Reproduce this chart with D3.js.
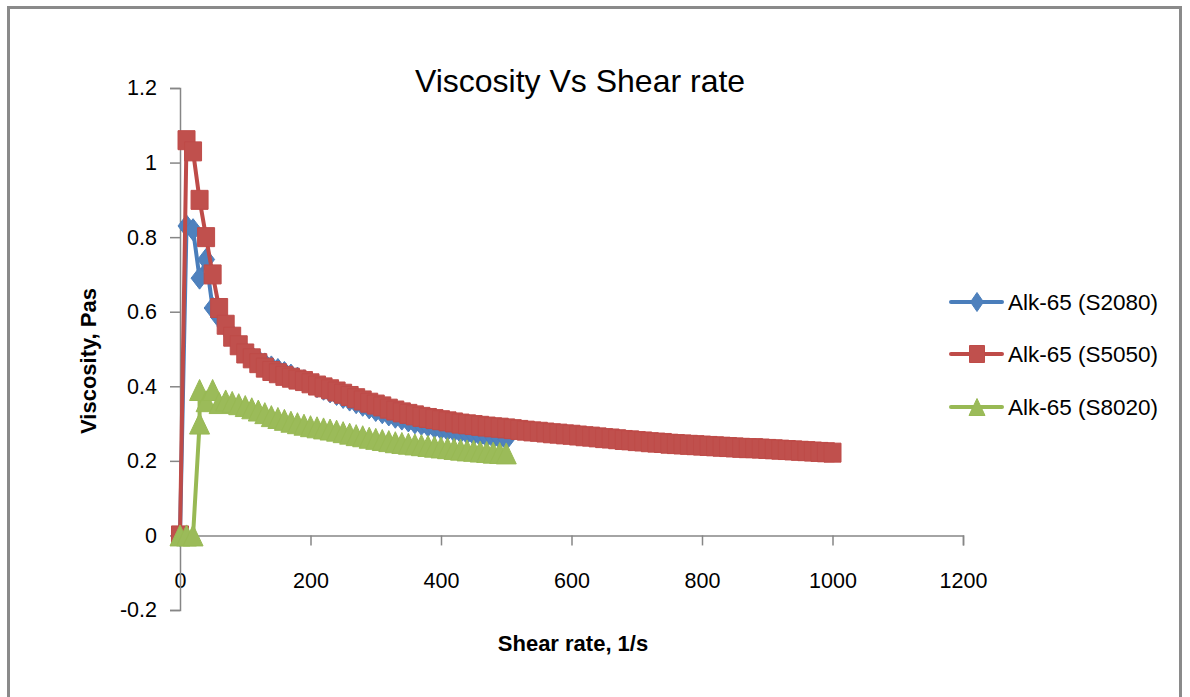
<!DOCTYPE html>
<html><head><meta charset="utf-8">
<script src="https://cdn.jsdelivr.net/npm/d3@7"></script>
<style>body{margin:0;background:#fff}svg{display:block}</style>
</head><body>
<svg id="c" width="1190" height="697"></svg>
<script>
// ---- data ----
const shearRate = [0,10,20,30,40,50,60,70,80,90,100,110,120,130,140,150,160,170,180,190,
  200,210,220,230,240,250,260,270,280,290,300,310,320,330,340,350,360,370,380,390,
  400,410,420,430,440,450,460,470,480,490,500,510,520,530,540,550,560,570,580,590,
  600,610,620,630,640,650,660,670,680,690,700,710,720,730,740,750,760,770,780,790,
  800,810,820,830,840,850,860,870,880,890,900,910,920,930,940,950,960,970,980,990,1000];
const shearRate2080 = [0,10,20,30,40,50,60,70,80,90,100,110,120,130,140,150,160,170,180,190,
  200,210,220,230,240,250,260,270,280,290,300,310,320,330,340,350,360,370,380,390,
  400,410,420,430,440,450,460,470,480,490,500];
const shearRate8020 = [0,10,20,30,30,40,50,60,70,80,90,100,110,120,130,140,150,160,170,180,190,
  200,210,220,230,240,250,260,270,280,290,300,310,320,330,340,350,360,370,380,390,
  400,410,420,430,440,450,460,470,480,490,500];
const visc2080 = [0,0.83,0.82,0.69,0.74,0.61,0.585,0.56,0.535,0.51,
  0.492,0.48,0.47,0.46,0.452,0.445,0.437,0.43,0.422,0.415,
  0.407,0.399,0.392,0.385,0.378,0.37,0.363,0.356,0.349,0.342,
  0.335,0.329,0.323,0.317,0.312,0.307,0.302,0.298,0.294,0.29,
  0.286,0.283,0.28,0.277,0.274,0.271,0.268,0.265,0.263,0.26,
  0.258];
const visc5050 = [0,1.06,1.03,0.90,0.80,0.70,0.61,0.565,0.533,0.51,
  0.488,0.475,0.462,0.45,0.441,0.435,0.428,0.423,0.418,0.414,
  0.408,0.402,0.397,0.392,0.386,0.38,0.374,0.368,0.362,0.356,
  0.351,0.346,0.34,0.335,0.33,0.326,0.322,0.318,0.315,0.312,
  0.309,0.306,0.303,0.3,0.298,0.296,0.294,0.292,0.29,0.289,
  0.287,0.285,0.283,0.281,0.279,0.278,0.276,0.274,0.273,0.271,
  0.27,0.268,0.266,0.265,0.263,0.261,0.26,0.258,0.256,0.255,
  0.253,0.252,0.25,0.249,0.248,0.246,0.245,0.244,0.243,0.242,
  0.241,0.24,0.239,0.238,0.237,0.236,0.235,0.234,0.234,0.233,
  0.232,0.231,0.23,0.229,0.228,0.227,0.226,0.225,0.224,0.223,
  0.222];
const visc8020 = [0,0,0,0.30,0.39,0.36,0.39,0.355,0.362,0.358,
  0.352,0.347,0.341,0.335,0.328,0.32,0.315,0.31,0.305,0.301,
  0.297,0.293,0.29,0.287,0.284,0.281,0.277,0.273,0.269,0.266,
  0.262,0.259,0.256,0.253,0.25,0.248,0.246,0.244,0.242,0.24,
  0.238,0.236,0.234,0.232,0.23,0.228,0.227,0.225,0.224,0.222,
  0.221,0.22];
const seriesNames = ["Alk-65 (S2080)","Alk-65 (S5050)","Alk-65 (S8020)"];
const yTicks = [-0.2,0,0.2,0.4,0.6,0.8,1,1.2];
const yTickLabels = ["-0.2","0","0.2","0.4","0.6","0.8","1","1.2"];
const xTicks = [0,200,400,600,800,1000,1200];
const xTickLabels = ["0","200","400","600","800","1000","1200"];
const titleText = "Viscosity Vs Shear rate";
const xTitle = "Shear rate, 1/s";
const yTitle = "Viscosity, Pas";

// ---- styles ----
const FONT = "'Liberation Sans', Arial, sans-serif";
const AXIS = "#868686";
const series = [
  {name: seriesNames[0], xs: shearRate2080, ys: visc2080, line: "#4A7EBB", fill: "#4F81BD", shape: "diamond"},
  {name: seriesNames[1], xs: shearRate, ys: visc5050, line: "#BE4B48", fill: "#C0504D", shape: "square"},
  {name: seriesNames[2], xs: shearRate8020, ys: visc8020, line: "#98B954", fill: "#9BBB59", shape: "triangle"}
];

const svg = d3.select("#c");
svg.append("rect").attr("x",0).attr("y",0).attr("width",1190).attr("height",697).attr("fill","#fff");
svg.append("rect").attr("x",8.5).attr("y",7.5).attr("width",1172).attr("height",720)
  .attr("fill","none").attr("stroke","#8a8a8a").attr("stroke-width",3);

const x = d3.scaleLinear().domain([0,1200]).range([180,963]);
const y = d3.scaleLinear().domain([-0.2,1.2]).range([610,88]);

// title
svg.append("text").attr("x",580).attr("y",92).attr("text-anchor","middle")
  .attr("font-family",FONT).attr("font-size",32).attr("fill","#000").text(titleText);

// x axis labels (drawn at bottom like Excel "low" position)
const xAx = svg.append("g").attr("transform",`translate(0,${y(0)})`)
  .call(d3.axisBottom(x).tickValues(xTicks).tickSize(10).tickFormat((d,i)=>xTickLabels[i]));
xAx.select(".domain").attr("stroke",AXIS).attr("stroke-width",1.5);
xAx.selectAll(".tick line").attr("stroke",AXIS).attr("stroke-width",1.5);
xAx.selectAll(".tick text").attr("font-family",FONT).attr("font-size",21.5).attr("fill","#000")
  .attr("y",45).attr("dy","0.36em");

const yAx = svg.append("g").attr("transform",`translate(${x(0)},0)`)
  .call(d3.axisLeft(y).tickValues(yTicks).tickSize(10).tickPadding(13).tickFormat((d,i)=>yTickLabels[i]));
yAx.select(".domain").attr("stroke",AXIS).attr("stroke-width",1.5);
yAx.selectAll(".tick line").attr("stroke",AXIS).attr("stroke-width",1.5);
yAx.selectAll(".tick text").attr("font-family",FONT).attr("font-size",21.5).attr("fill","#000");

// axis titles
svg.append("text").attr("x",573).attr("y",651).attr("text-anchor","middle")
  .attr("font-family",FONT).attr("font-weight","bold").attr("font-size",22).attr("fill","#000").text(xTitle);
svg.append("text").attr("transform","translate(96,361) rotate(-90)").attr("text-anchor","middle")
  .attr("font-family",FONT).attr("font-weight","bold").attr("font-size",22).attr("fill","#000").text(yTitle);

// marker paths
function markerPath(shape, w, h){
  const a=w/2, b=h/2;
  if(shape==="diamond") return `M0,${-b}L${a},0L0,${b}L${-a},0Z`;
  if(shape==="square") return `M${-a},${-b}H${a}V${b}H${-a}Z`;
  return `M0,${-b}L${a},${b}L${-a},${b}Z`;
}
const plotSize = {diamond:[17,22], square:[17,19], triangle:[20,21]};
const legSize = {diamond:[13,19], square:[15,17], triangle:[16,17]};

const line = d3.line().x(d=>x(d[0])).y(d=>y(d[1]));
series.forEach(s=>{
  const pts = s.xs.map((v,i)=>[v, s.ys[i]]);
  const g = svg.append("g");
  g.append("path").attr("d",line(pts)).attr("fill","none").attr("stroke",s.line)
    .attr("stroke-width",4).attr("stroke-linejoin","round").attr("stroke-linecap","round");
  const sz = plotSize[s.shape];
  g.selectAll("path.m").data(pts).enter().append("path").attr("class","m")
    .attr("transform",d=>`translate(${x(d[0])},${y(d[1])})`)
    .attr("d",markerPath(s.shape, sz[0], sz[1]))
    .attr("fill",s.fill).attr("stroke",s.line).attr("stroke-width",1);
});

// legend
const legY = [302, 354, 407];
series.forEach((s,i)=>{
  const g = svg.append("g").attr("transform",`translate(0,${legY[i]})`);
  g.append("line").attr("x1",951).attr("x2",1002).attr("y1",0).attr("y2",0)
    .attr("stroke",s.line).attr("stroke-width",4).attr("stroke-linecap","round");
  const sz = legSize[s.shape];
  g.append("path").attr("transform","translate(977,0)").attr("d",markerPath(s.shape,sz[0],sz[1]))
    .attr("fill",s.fill).attr("stroke",s.line).attr("stroke-width",1);
  g.append("text").attr("x",1008).attr("y",0).attr("dy","0.36em")
    .attr("font-family",FONT).attr("font-size",22.5).attr("fill","#000").text(s.name);
});
</script>
</body></html>
